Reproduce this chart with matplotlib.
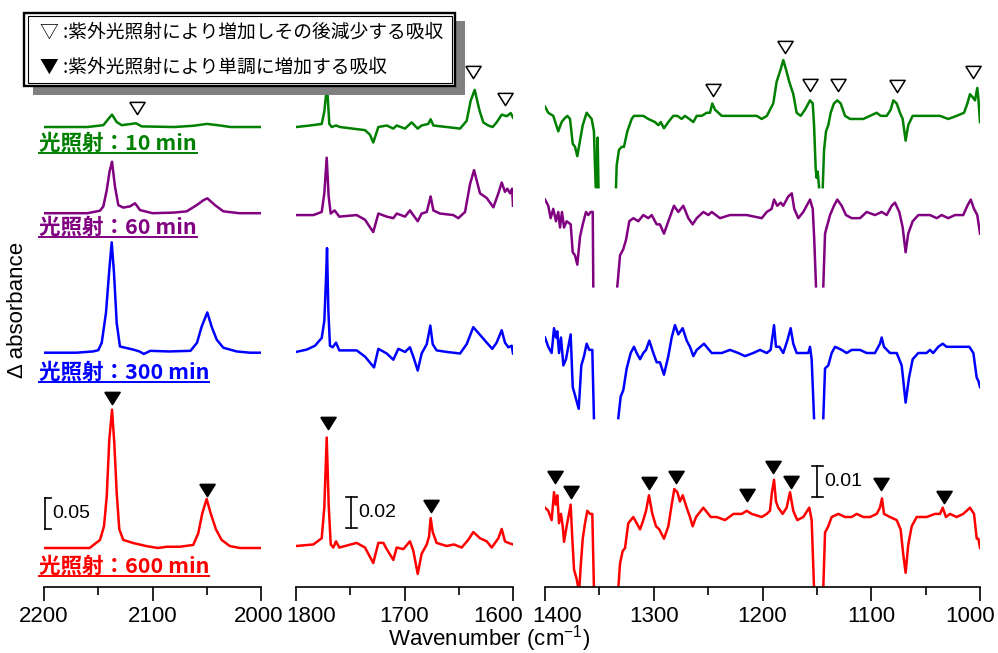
import numpy as np
import matplotlib
matplotlib.use('Agg')
import matplotlib.pyplot as plt
from matplotlib.patches import Rectangle
from matplotlib.lines import Line2D
from matplotlib.transforms import ScaledTranslation

plt.rcParams['font.family'] = ['Liberation Sans', 'DejaVu Sans']
plt.rcParams['mathtext.fontset'] = 'custom'
plt.rcParams['mathtext.rm'] = 'Liberation Sans'
plt.rcParams['mathtext.it'] = 'Liberation Sans:italic'

nan = np.nan

# ---- spectra (wavenumber, delta absorbance relative to each trace's own baseline)
# panel 1 : 2200-2000
P1_GREEN = [(2200, 0.0), (2160, 0.0), (2145.3, 0.003), (2140.7, 0.013), (2137.3, 0.020), (2133.0, 0.008),
            (2128.4, 0.003), (2115.2, 0.006), (2110, 0.001), (2080, 0.0), (2062.4, 0.002), (2050, 0.005),
            (2040, 0.003), (2028, 0.0), (2000, 0.0)]
P1_PURPLE = [(2200, 0.0), (2160, 0.0), (2148.4, 0.004), (2145.3, 0.011), (2142.2, 0.037), (2139.5, 0.068),
             (2137.3, 0.083), (2134.6, 0.043), (2131.5, 0.013), (2126.9, 0.009), (2120.7, 0.011), (2116.1, 0.016),
             (2111.5, 0.005), (2100, 0.0), (2080, 0.001), (2068.5, 0.003), (2059.3, 0.013), (2053, 0.021),
             (2049.5, 0.024), (2042.4, 0.013), (2034.7, 0.003), (2020, 0.0), (2000, 0.0)]
P1_BLUE = [(2200, 0.0), (2170, 0.0), (2155, 0.002), (2150, 0.004), (2146.8, 0.016), (2142.9, 0.064),
           (2139.8, 0.134), (2137.6, 0.178), (2135.5, 0.129), (2133.0, 0.048), (2130.0, 0.010), (2117.7, 0.005),
           (2112, 0.002), (2108, -0.002), (2102, 0.003), (2085, 0.002), (2065, 0.003), (2059, 0.016),
           (2054.7, 0.042), (2049.5, 0.065), (2045.5, 0.042), (2040.8, 0.021), (2034.7, 0.008), (2022.4, 0.002),
           (2010, 0.0), (2000, 0.0)]
P1_RED = [(2200, 0.0), (2158, 0.0), (2148.4, 0.013), (2144.7, 0.035), (2142.2, 0.083), (2139.8, 0.175),
          (2137.3, 0.223), (2135.2, 0.169), (2133.0, 0.089), (2130.6, 0.030), (2126.9, 0.013), (2117.7, 0.008),
          (2105.4, 0.003), (2095, 0.0), (2086.9, 0.002), (2075, 0.002), (2062.4, 0.005), (2057.8, 0.024),
          (2054.1, 0.056), (2050.1, 0.079), (2046.4, 0.056), (2041.5, 0.030), (2036.3, 0.013), (2028.6, 0.003),
          (2019.4, 0.0), (2000, 0.0)]

# panel 2 : 1800-1600
P2_GREEN = [(1800, 0.0), (1787.1, 0.001), (1776.3, 0.002), (1773.9, 0.010), (1771.4, 0.027), (1769.3, 0.002),
            (1767.1, 0.0), (1763.1, 0.001), (1759.4, 0.0), (1736.4, -0.002), (1731.8, -0.005), (1728.8, -0.010),
            (1724.1, 0.0), (1716.4, 0.001), (1710.3, -0.001), (1707.2, 0.001), (1699.5, -0.001), (1693.4, 0.003),
            (1687.8, -0.001), (1684.2, 0.001), (1678.1, 0.002), (1675.9, 0.005), (1673.4, 0.001), (1661.1, 0.0),
            (1648.8, -0.001), (1642.7, 0.004), (1639, 0.017), (1635.3, 0.024), (1631, 0.011), (1627.4, 0.003),
            (1622.8, 0.001), (1618.8, 0.0), (1615.1, 0.003), (1610.4, 0.008), (1605.8, 0.007), (1602.1, 0.009),
            (1600, 0.006)]
P2_PURPLE = [(1800, 0.0), (1784, 0.0), (1776.3, 0.002), (1773.9, 0.014), (1771.7, 0.037), (1769.9, 0.012),
             (1768, 0.001), (1764.4, 0.003), (1760.1, -0.001), (1744.1, 0.0), (1736.4, -0.003), (1728.8, -0.011),
             (1724.1, 0.001), (1716.4, -0.001), (1710.3, -0.002), (1707.2, 0.001), (1699.5, -0.001), (1695, 0.003),
             (1687.8, -0.004), (1684.2, 0.001), (1679.5, 0.002), (1675.9, 0.012), (1673.4, 0.003), (1667.3, 0.001),
             (1655, 0.0), (1650.4, -0.002), (1644.2, 0.002), (1639.6, 0.020), (1635.9, 0.029), (1630.4, 0.014),
             (1624.2, 0.011), (1618.1, 0.005), (1613.5, 0.014), (1610.4, 0.021), (1607.4, 0.015), (1605.2, 0.017),
             (1602.7, 0.014), (1600.8, 0.017), (1600, 0.006)]
P2_BLUE = [(1800, 0.0), (1790.2, 0.0015), (1782.5, 0.004), (1776.3, 0.009), (1773.9, 0.020), (1772.4, 0.046),
           (1771.4, 0.067), (1770.2, 0.027), (1768.7, 0.004), (1766.2, 0.003), (1763.1, 0.006), (1760.1, 0.001),
           (1744.1, 0.001), (1736.4, -0.003), (1728.1, -0.010), (1724.1, 0.002), (1716.4, -0.001), (1710.3, -0.005),
           (1705.7, 0.002), (1699.5, 0.0), (1695, 0.003), (1691.9, -0.003), (1687.8, -0.012), (1684.2, -0.001),
           (1679.5, 0.005), (1676.2, 0.017), (1674, 0.005), (1670.4, 0.001), (1661.1, 0.0), (1648.8, -0.001),
           (1642.7, 0.005), (1636.6, 0.016), (1630.4, 0.011), (1624.2, 0.006), (1619.1, 0.002), (1615.1, 0.006),
           (1610.4, 0.014), (1607.4, 0.006), (1604.3, 0.003), (1601.2, 0.004), (1600, -0.001)]
P2_RED = [(1800, 0.0), (1784, 0.001), (1776.3, 0.005), (1773.9, 0.025), (1771.7, 0.070), (1769.9, 0.027),
          (1768, 0.001), (1765.6, -0.001), (1763.1, 0.003), (1760.1, -0.001), (1744.1, 0.002), (1736.4, -0.001),
          (1728.8, -0.011), (1724.1, 0.002), (1719.5, 0.002), (1716.4, -0.002), (1710.3, -0.009), (1707.2, -0.001),
          (1701.1, -0.002), (1695, 0.003), (1691.9, -0.003), (1687.8, -0.018), (1684.2, -0.005), (1679.5, 0.001),
          (1677.4, 0.006), (1675.9, 0.018), (1674, 0.009), (1670.4, 0.002), (1661.1, 0.0), (1654.4, 0.001),
          (1647.3, -0.001), (1641.2, 0.004), (1636.6, 0.009), (1630.4, 0.005), (1624.2, 0.003), (1619.6, -0.001),
          (1613.5, 0.005), (1610.4, 0.011), (1607.4, 0.003), (1604.3, 0.002), (1600, 0.001)]

# panel 3 : 1400-1000 (nan = off-scale band, trace cut)
P3_GREEN = [(1400, 0.003), (1397, 0.001), (1392.4, 0.0), (1387.8, -0.005), (1384.7, -0.002), (1382.5, -0.001),
            (1379.5, 0.0), (1377, -0.001), (1374.5, -0.009), (1372.4, -0.010), (1370.3, -0.013), (1367.8, -0.008),
            (1365.3, -0.003), (1361.7, 0.001), (1357.1, -0.001), (1355, -0.005), (1353.4, -0.023), (1352.4, -0.023),
            (1351.6, -0.007), (1350.8, -0.023), (1350, nan), (1334.7, -0.023), (1334.1, -0.016), (1332, -0.011),
            (1329.5, -0.010), (1327.4, -0.010), (1324.3, -0.005), (1320.3, -0.001), (1318.2, 0.0), (1312.6, 0.0),
            (1309.6, 0.0), (1305, -0.001), (1298.9, -0.002), (1295.8, -0.003), (1293.6, -0.002), (1290.6, -0.004),
            (1286.6, -0.002), (1282, 0.0), (1278.3, 0.0), (1274.3, -0.001), (1271.3, 0.0), (1267.3, -0.001),
            (1263.6, -0.002), (1260.5, 0.0), (1255.9, 0.0), (1251.3, 0.001), (1248.3, 0.001), (1246.2, 0.004),
            (1243.7, 0.002), (1237.5, 0.0), (1220.7, 0.0), (1205.3, 0.0), (1200.7, -0.001), (1196, 0.0),
            (1193.1, 0.002), (1190.1, 0.004), (1187, 0.011), (1183.3, 0.015), (1180.9, 0.018), (1178.4, 0.015),
            (1175.4, 0.011), (1171.7, 0.007), (1168.6, 0.001), (1164.9, 0.0), (1160.9, 0.002), (1156.3, 0.005),
            (1153.8, 0.004), (1152.6, -0.003), (1151.1, -0.017), (1150.2, -0.020), (1149.2, -0.018), (1148, -0.023),
            (1146, nan), (1144.6, -0.023), (1143.4, -0.011), (1141.6, -0.005), (1139.5, -0.003), (1137.3, 0.001),
            (1134.3, 0.004), (1131.2, 0.005), (1128.1, 0.004), (1124.1, 0.0), (1119.5, -0.001), (1113.4, -0.001),
            (1107.3, -0.001), (1101.1, 0.0), (1095, 0.001), (1091.3, 0.0), (1085.8, 0.0), (1082.1, 0.002),
            (1079.7, 0.005), (1076.6, 0.004), (1073.6, 0.001), (1071.1, -0.001), (1068.4, -0.008), (1066, -0.003),
            (1061.9, 0.0), (1055.2, 0.0), (1049.1, 0.0), (1043, 0.0), (1036.8, 0.0), (1029.2, -0.001),
            (1021.4, 0.0), (1014.7, 0.001), (1011.6, 0.004), (1009.2, 0.007), (1006.7, 0.006), (1004.6, 0.005),
            (1002.5, 0.009), (1001.6, 0.006), (1000, -0.002)]
P3_PURPLE = [(1400, 0.005), (1397, 0.003), (1394.8, -0.001), (1392.4, 0.002), (1389.9, -0.002), (1387.8, 0.001),
             (1386.2, -0.004), (1384.4, 0.001), (1382.5, -0.004), (1380.1, -0.002), (1376.4, -0.003),
             (1374.5, -0.012), (1372.4, -0.013), (1370.3, -0.016), (1367.8, -0.007), (1365.3, -0.003),
             (1362.3, 0.001), (1360.2, 0.0), (1358, 0.001), (1356.1, 0.001), (1355.6, -0.023), (1354, nan),
             (1333.5, -0.023), (1331, -0.013), (1328, -0.011), (1325.5, -0.008), (1322.5, -0.002), (1318.8, -0.001),
             (1314.2, -0.002), (1309.6, 0.0), (1305, -0.001), (1301.9, 0.0), (1297.3, -0.003), (1294.3, -0.003),
             (1290.6, -0.006), (1286.6, -0.002), (1281.4, 0.003), (1277.4, 0.001), (1272.8, 0.003), (1268.2, -0.001),
             (1264.2, -0.003), (1260.5, -0.001), (1254.4, 0.001), (1249.8, 0.0), (1246.7, 0.001), (1239.1, -0.001),
             (1229.9, 0.0), (1214.5, 0.0), (1200.7, -0.001), (1196.1, 0.001), (1191.6, 0.002), (1189.4, 0.005),
             (1186.4, 0.003), (1183.3, 0.004), (1180.9, 0.003), (1176.3, 0.006), (1173.1, 0.007), (1170.8, 0.002),
             (1167.1, -0.001), (1162.5, 0.001), (1156.3, 0.005), (1153.8, 0.002), (1152.4, -0.008), (1150.8, -0.023),
             (1148, nan), (1144.1, -0.023), (1142.5, -0.006), (1141, -0.004), (1137.9, 0.0), (1134.3, 0.003),
             (1131.2, 0.005), (1127.2, 0.003), (1123.2, 0.0), (1118, -0.001), (1110.3, -0.001), (1104.2, 0.001),
             (1096.6, 0.0), (1090.4, 0.001), (1085.8, 0.0), (1081.2, 0.003), (1078.2, 0.004), (1074.2, 0.001),
             (1071.1, -0.004), (1068.4, -0.012), (1066, -0.006), (1061.9, -0.002), (1056.7, 0.0), (1046, 0.0),
             (1039.8, -0.001), (1035.2, 0.0), (1029.2, -0.001), (1023, 0.0), (1015.4, 0.0), (1011.6, 0.003),
             (1008.5, 0.005), (1005.5, 0.002), (1002.5, 0.0), (1000, -0.006)]
P3_BLUE = [(1400, 0.005), (1397, 0.002), (1393.9, 0.0), (1391.7, 0.008), (1389.9, 0.005), (1388.7, 0.007),
           (1387.1, 0.0), (1385.3, 0.005), (1383.1, -0.004), (1380.7, -0.002), (1378.6, 0.002), (1376.4, 0.006),
           (1374.5, -0.011), (1372.1, -0.014), (1369, -0.018), (1366.6, -0.004), (1364.1, -0.001), (1361.7, 0.003),
           (1359.3, 0.001), (1356.5, 0.001), (1355, -0.021), (1353, nan), (1332.6, -0.021), (1330.4, -0.014),
           (1328, -0.012), (1324.9, -0.005), (1321.2, 0.0), (1318.2, 0.002), (1315.7, 0.0), (1312.6, -0.002),
           (1309.6, 0.0), (1307.1, 0.001), (1304.1, 0.004), (1300.4, 0.0), (1297.3, -0.003), (1294.3, -0.003),
           (1290.6, -0.007), (1286.6, -0.001), (1283.5, 0.005), (1280.5, 0.009), (1277.4, 0.006), (1273.4, 0.008),
           (1269.7, 0.004), (1266.7, 0.002), (1263.6, -0.001), (1260.5, 0.001), (1253.8, 0.003), (1246.7, 0.0),
           (1237.5, 0.0), (1229.9, 0.001), (1222.3, 0.0), (1216.1, -0.001), (1208.5, 0.0), (1202.3, 0.001),
           (1196.1, 0.0), (1192.5, 0.001), (1189.4, 0.009), (1187.6, 0.002), (1184.5, 0.002), (1180.9, 0.0),
           (1177.2, 0.004), (1174.1, 0.008), (1171.7, 0.003), (1168.6, 0.0), (1162.5, 0.0), (1157.9, 0.0),
           (1156.3, 0.002), (1154.8, -0.002), (1152.6, -0.021), (1148, nan), (1144.1, -0.021), (1142.5, -0.005),
           (1139.5, -0.004), (1136.4, 0.0), (1133.3, 0.002), (1127.2, 0.001), (1122.6, 0.0), (1118, 0.001),
           (1110.3, 0.001), (1104.2, 0.0), (1096.6, 0.0), (1092, 0.003), (1090.4, 0.005), (1088.3, 0.002),
           (1082.8, 0.0), (1076.6, 0.0), (1072, -0.004), (1068.4, -0.016), (1065.3, -0.008), (1061.9, -0.002),
           (1056.7, 0.0), (1049.1, 0.0), (1046, 0.001), (1043, 0.0), (1038.4, 0.002), (1034.3, 0.003),
           (1030.7, 0.002), (1024.5, 0.002), (1018.4, 0.002), (1013.8, 0.002), (1009.8, 0.002), (1006.1, 0.0),
           (1003, -0.008), (1001.5, -0.009), (1000, -0.011)]
P3_RED = [(1400, 0.003), (1397, 0.002), (1393.9, -0.001), (1391.7, 0.008), (1390.2, 0.004), (1388.7, 0.007),
          (1387.1, -0.002), (1385.3, 0.001), (1383.7, -0.003), (1382.5, -0.008), (1380.1, -0.003), (1376.4, 0.004),
          (1374.9, -0.007), (1373.3, -0.017), (1370.9, -0.020), (1369.3, -0.023), (1368.4, -0.023),
          (1367.2, -0.016), (1365.3, -0.007), (1363.2, -0.002), (1361.1, 0.002), (1358.6, 0.001), (1356.5, 0.001),
          (1355, -0.023), (1345, nan), (1332.6, -0.023), (1331, -0.015), (1328.6, -0.011), (1326.4, -0.010),
          (1323.4, -0.002), (1318.8, 0.0), (1315.7, -0.002), (1312.6, -0.004), (1309.6, -0.001), (1307.1, 0.002),
          (1304.4, 0.007), (1301.3, 0.001), (1297.9, -0.003), (1294.9, -0.004), (1290.6, -0.007), (1286.6, -0.003),
          (1283.5, 0.004), (1281.1, 0.009), (1278.3, 0.008), (1275.9, 0.005), (1273.4, 0.007), (1269.7, 0.003),
          (1266.7, 0.0), (1264.2, -0.003), (1261.1, 0.0), (1254.4, 0.003), (1247.6, 0.0), (1242.1, 0.0),
          (1234.5, -0.001), (1226.7, 0.001), (1219.1, 0.001), (1214.5, 0.002), (1210, 0.001), (1200.7, 0.0),
          (1196.1, 0.001), (1193.1, 0.002), (1191.3, 0.008), (1189.4, 0.012), (1187.6, 0.005), (1185.5, 0.003),
          (1181.5, 0.001), (1177.8, 0.003), (1174.7, 0.008), (1171.7, 0.002), (1168, -0.001), (1162.5, 0.0),
          (1157, 0.003), (1154.8, -0.001), (1152.6, -0.023), (1148, nan), (1144.1, -0.023), (1142.5, -0.005),
          (1139.5, -0.003), (1136.4, 0.0), (1130.3, 0.001), (1124.1, 0.0), (1118, 0.0), (1113.4, 0.001),
          (1107.3, 0.0), (1101.1, 0.0), (1095, 0.001), (1092, 0.003), (1090.1, 0.006), (1088.3, 0.001),
          (1082.8, 0.0), (1076.6, -0.001), (1073, -0.004), (1070.6, -0.012), (1068.4, -0.018), (1066, -0.009),
          (1062.8, -0.003), (1058.2, 0.0), (1049.1, 0.0), (1041.4, 0.001), (1036.8, 0.001), (1034.3, 0.003),
          (1031.3, 0.0), (1027.6, 0.001), (1021.4, 0.0), (1015.4, 0.001), (1009.2, 0.003), (1005.5, 0.001),
          (1003, -0.007), (1001.5, -0.007), (1000, -0.010)]

# vertical offsets of the traces (green, purple, blue, red) in each panel
P1_OFFSETS = [0.679, 0.540, 0.315, 0.0]
P2_OFFSETS = [0.2703, 0.2135, 0.1252, 0.0]
P3_OFFSETS = [0.1294, 0.0974, 0.0529, 0.0]

# band markers (wavenumber, height): open = rises then falls, filled = rises monotonically
P1_OPEN = [(2114.6, 0.710)]
P1_FILLED = [(2137.3, 0.242), (2050.0, 0.0936)]
P2_OPEN = [(1636.5, 0.3058), (1607.4, 0.2884)]
P2_FILLED = [(1770.2, 0.0791), (1675.6, 0.0258)]
P3_OPEN = [(1245.2, 0.1378), (1179.3, 0.1517), (1156.3, 0.1394), (1130.9, 0.1394), (1076.6, 0.1390),
           (1006.7, 0.1437)]
P3_FILLED = [(1390.8, 0.0128), (1376.1, 0.0082), (1304.4, 0.0111), (1279.8, 0.0130), (1214.5, 0.0071),
             (1190.0, 0.0160), (1174.1, 0.0114), (1091.1, 0.0107), (1033.1, 0.0066)]

# scale bars: (wavenumber, bottom, size)
SCALE_BARS = [(2199, 0.0306, 0.05), (1749, 0.0114, 0.02), (1149.6, 0.00656, 0.01)]

COLORS = ['#008000', '#800080', '#0000ff', '#ff0000']
LABELS = ['光照射：10 min', '光照射：60 min', '光照射：300 min', '光照射：600 min']
LEGEND = ['▽ :紫外光照射により増加しその後減少する吸収', '▼ :紫外光照射により単調に増加する吸収']

W, H = 998, 653
fig = plt.figure(figsize=(W / 100, H / 100), dpi=100)


def fx(px):
    return px / W


def fy(py):
    return 1 - py / H


AX_BOTTOM = 587  # px from top
BAR_PX = 31      # height of a scale bar in pixels

panels = [
    dict(xlim=(2200, 2000), left=44, right=261, red_base=548, scale=0.05,
         traces=[P1_GREEN, P1_PURPLE, P1_BLUE, P1_RED], offsets=P1_OFFSETS,
         open=P1_OPEN, filled=P1_FILLED, major=[2200, 2100, 2000], minor=[2150, 2050],
         label_shift=[0, 0, -2]),
    dict(xlim=(1800, 1600), left=296, right=513, red_base=546, scale=0.02,
         traces=[P2_GREEN, P2_PURPLE, P2_BLUE, P2_RED], offsets=P2_OFFSETS,
         open=P2_OPEN, filled=P2_FILLED, major=[1800, 1700, 1600], minor=[1750, 1650],
         label_shift=[15, 0, -15]),
    dict(xlim=(1400, 1000), left=545, right=980, red_base=517, scale=0.01,
         traces=[P3_GREEN, P3_PURPLE, P3_BLUE, P3_RED], offsets=P3_OFFSETS,
         open=P3_OPEN, filled=P3_FILLED, major=[1400, 1300, 1200, 1100, 1000],
         minor=[1350, 1250, 1150, 1050], label_shift=[12, 0, 0, 0, -10]),
]

tri = [(-1, 0.8), (1, 0.8), (0, -0.8), (-1, 0.8)]

for p, bar in zip(panels, SCALE_BARS):
    ax = fig.add_axes([fx(p['left']), fy(AX_BOTTOM), fx(p['right'] - p['left']), AX_BOTTOM / H])
    per_px = p['scale'] / BAR_PX
    y0 = -(AX_BOTTOM - p['red_base']) * per_px
    ax.set_ylim(y0, y0 + AX_BOTTOM * per_px)
    ax.set_xlim(*p['xlim'])
    ax.patch.set_visible(False)

    for tr, off, c in zip(p['traces'], p['offsets'], COLORS):
        d = np.array(tr)
        ax.plot(d[:, 0], d[:, 1] + off, color=c, lw=1.8, solid_joinstyle='round')

    o = np.array(p['open'])
    ax.plot(o[:, 0], o[:, 1], ls='none', marker=tri, ms=11, mfc='white', mec='black', mew=1.1, clip_on=False)
    f = np.array(p['filled'])
    ax.plot(f[:, 0], f[:, 1], ls='none', marker=tri, ms=11, mfc='black', mec='black', mew=1.1, clip_on=False)

    # scale bar
    xb, yb, size = bar
    dx = 5.2
    ax.plot([xb, xb], [yb, yb + size], color='black', lw=1.2)
    ax.plot([xb - dx, xb + dx], [yb, yb], color='black', lw=1.2)
    ax.plot([xb - dx, xb + dx], [yb + size, yb + size], color='black', lw=1.2)
    ax.text(xb - 6.8, yb + size / 2, f'{size:.2f}', ha='left', va='center', fontsize=14)

    for s in ['left', 'right', 'top']:
        ax.spines[s].set_visible(False)
    ax.spines['bottom'].set_linewidth(1.2)
    ax.set_yticks([])
    ax.set_xticks(p['major'])
    ax.set_xticks(p['minor'], minor=True)
    ax.tick_params(axis='x', which='major', direction='out', length=10, width=1.2, labelsize=16, pad=4)
    ax.tick_params(axis='x', which='minor', direction='out', length=6, width=1.2)
    # end labels are pulled inside the panel
    for lab, sh in zip(ax.get_xticklabels(), p['label_shift']):
        if sh:
            lab.set_transform(lab.get_transform() + ScaledTranslation(sh / 100, 0, fig.dpi_scale_trans))

# axis titles
fig.text(fx(489), fy(638.5), 'Wavenumber (cm$^{-1}$)', ha='center', va='center', fontsize=16)
fig.text(fx(18), fy(310), 'Δ absorbance', ha='center', va='center', rotation=90, fontsize=16)

# trace labels with underline
label_base = [150, 234, 379, 573]
label_texts = []
for lab, c, yb in zip(LABELS, COLORS, label_base):
    t = fig.text(fx(39), fy(yb), lab, ha='left', va='baseline', fontsize=15.5, fontweight='bold', color=c,
                 family=['Noto Sans CJK JP', 'Liberation Sans'])
    label_texts.append((t, c, yb))

# legend box with shadow
fig.add_artist(Rectangle((fx(33), fy(95)), fx(465 - 33), (95 - 21) / H, transform=fig.transFigure,
                         facecolor='#808080', edgecolor='none', zorder=10))
fig.add_artist(Rectangle((fx(24), fy(86)), fx(455 - 24), (86 - 12.7) / H, transform=fig.transFigure,
                         facecolor='white', edgecolor='black', lw=1.7, zorder=11))
fig.add_artist(Rectangle((fx(27.5), fy(82.5)), fx(451.5 - 27.5), (82.5 - 16.2) / H, transform=fig.transFigure,
                         facecolor='none', edgecolor='black', lw=0.8, zorder=12))
for txt, yc in zip(LEGEND, [31.7, 66.7]):
    fig.text(fx(40), fy(yc), txt, ha='left', va='center', fontsize=13.5, zorder=13,
             family=['Noto Sans CJK JP', 'DejaVu Sans'])

fig.canvas.draw()
renderer = fig.canvas.get_renderer()
for t, c, yb in label_texts:
    bb = t.get_window_extent(renderer)
    fig.add_artist(Line2D([bb.x0 / W, bb.x1 / W], [fy(yb + 3.2), fy(yb + 3.2)], transform=fig.transFigure,
                          color=c, lw=1.4))

fig.savefig('out.png', dpi=100)
